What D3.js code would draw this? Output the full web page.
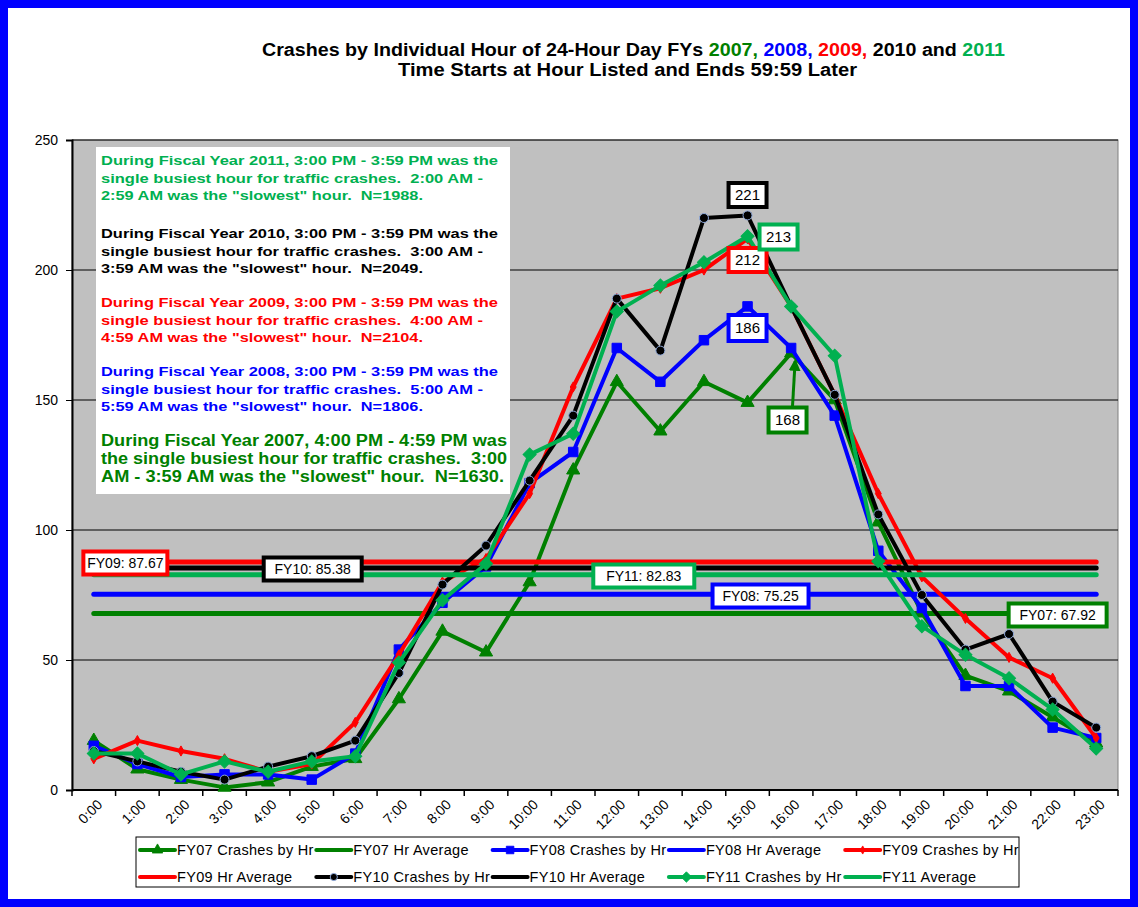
<!DOCTYPE html>
<html><head><meta charset="utf-8">
<script src="https://cdn.jsdelivr.net/npm/d3@7"></script>
<style>html,body{margin:0;padding:0;background:#fff;}svg{display:block;font-family:Arial,"Liberation Sans",sans-serif;}</style>
</head><body>
<svg id="c" width="1138" height="907"></svg>
<script>
const hours = ["0:00","1:00","2:00","3:00","4:00","5:00","6:00","7:00","8:00","9:00","10:00","11:00","12:00","13:00","14:00","15:00","16:00","17:00","18:00","19:00","20:00","21:00","22:00","23:00"];
const yTicks = [0,50,100,150,200,250];
const fy07 = [19,8,4,1,3,9,12,35,61,53,80,123,157,138,157,149,168,150,103,68,44,38,28,18];
const fy08 = [17,10,5,6,6,4,14,54,72,86,118,130,170,157,173,186,170,144,92,70,40,40,24,20];
const fy09 = [12,19,15,12,7,10,26,52,80,89,114,155,189,193,200,212,186,152,114,82,66,51,43,20];
const fy10 = [15,11,7,4,9,13,19,45,79,94,119,144,189,169,220,221,186,152,106,75,54,60,34,24];
const fy11 = [14,14,6,11,7,11,13,49,73,87,129,137,184,194,203,213,186,167,88,63,52,43,31,16];
const averages = [67.92,75.25,87.67,85.38,82.83];
const seriesNames = ["FY07","FY08","FY09","FY10","FY11"];
const colors = ["#008000","#0000FF","#FF0000","#000000","#00B050"];
const peakLabels = ["168","186","212","221","213"];
const legendLabels = ["FY07 Crashes by Hr","FY07 Hr Average","FY08 Crashes by Hr","FY08 Hr Average","FY09 Crashes by Hr","FY09 Hr Average","FY10 Crashes by Hr","FY10 Hr Average","FY11 Crashes by Hr","FY11 Average"];
const noteLines = [
 ["During Fiscal Year 2011, 3:00 PM - 3:59 PM was the","single busiest hour for traffic crashes.  2:00 AM -","2:59 AM was the \"slowest\" hour.  N=1988."],
 ["During Fiscal Year 2010, 3:00 PM - 3:59 PM was the","single busiest hour for traffic crashes.  3:00 AM -","3:59 AM was the \"slowest\" hour.  N=2049."],
 ["During Fiscal Year 2009, 3:00 PM - 3:59 PM was the","single busiest hour for traffic crashes.  4:00 AM -","4:59 AM was the \"slowest\" hour.  N=2104."],
 ["During Fiscal Year 2008, 3:00 PM - 3:59 PM was the","single busiest hour for traffic crashes.  5:00 AM -","5:59 AM was the \"slowest\" hour.  N=1806."],
 ["During Fiscal Year 2007, 4:00 PM - 4:59 PM was","the single busiest hour for traffic crashes.  3:00","AM - 3:59 AM was the \"slowest\" hour.  N=1630."]
];
const noteColors = ["#00B050","#000000","#FF0000","#0000FF","#008000"];

const data = [fy07,fy08,fy09,fy10,fy11];
const svg = d3.select("#c");
const L=72,R=1118,T=140,B=790;
const x = d3.scaleBand().domain(hours).range([L,R]);
const bw = x.bandwidth();
const cx = h => x(h)+bw/2;
const y = d3.scaleLinear().domain([0,250]).range([B,T]);

// outer frame
svg.append("rect").attr("x",4).attr("y",4).attr("width",1130).attr("height",899).attr("fill","#fff").attr("stroke","#0000FF").attr("stroke-width",8);

// title
const tf = "Arial,'Liberation Sans',sans-serif";
const t1 = svg.append("text").attr("x",262).attr("y",56).attr("font-weight","bold").attr("font-size",18).attr("font-family",tf)
 .attr("textLength",743).attr("lengthAdjust","spacingAndGlyphs");
[["Crashes by Individual Hour of 24-Hour Day FYs ","#000"],["2007, ","#008000"],["2008, ","#0000FF"],["2009, ","#FF0000"],["2010 and ","#000"],["2011","#00B050"]].forEach(p=>t1.append("tspan").attr("fill",p[1]).text(p[0]));
svg.append("text").attr("x",398).attr("y",76).attr("font-weight","bold").attr("font-size",18).attr("font-family",tf)
 .attr("textLength",459).attr("lengthAdjust","spacingAndGlyphs").text("Time Starts at Hour Listed and Ends 59:59 Later");

// plot area
svg.append("rect").attr("x",L).attr("y",T).attr("width",R-L).attr("height",B-T).attr("fill","#C0C0C0").attr("stroke","#808080").attr("stroke-width",1);
svg.append("g").selectAll("line").data(yTicks.filter(v=>v>0)).join("line")
 .attr("x1",L).attr("x2",R).attr("y1",d=>y(d)).attr("y2",d=>y(d)).attr("stroke","#000").attr("stroke-width",1);

// y axis
const ya = svg.append("g").attr("transform",`translate(${L},0)`).call(d3.axisLeft(y).tickValues(yTicks).tickSize(6).tickPadding(8));
ya.select(".domain").attr("stroke","#000").attr("stroke-width",2);
ya.selectAll("text").attr("font-size",14).attr("font-family",tf).attr("fill","#000");
// x axis
svg.append("line").attr("x1",L).attr("x2",R).attr("y1",B).attr("y2",B).attr("stroke","#000").attr("stroke-width",2);
svg.append("g").selectAll("line").data(hours.concat(["end"])).join("line")
 .attr("x1",d=>d==="end"?R:x(d)).attr("x2",d=>d==="end"?R:x(d)).attr("y1",B).attr("y2",B+6).attr("stroke","#000").attr("stroke-width",1.5);
svg.append("g").selectAll("text").data(hours).join("text")
 .attr("transform",d=>`translate(${cx(d)+6},${B+12}) rotate(-45)`).attr("text-anchor","end").attr("dy","0.35em")
 .attr("font-size",14).attr("fill","#000").text(d=>d);

const symbols = [d3.symbol().type(d3.symbolTriangle).size(75),
 d3.symbol().type(d3.symbolSquare).size(90),
 d3.symbol().type(d3.symbolDiamond).size(30),
 null,
 d3.symbol().type(d3.symbolSquare).size(85)];

function drawMarker(g,i,px,py,scale){
  scale = scale||1;
  if(i===3){
    g.append("circle").attr("cx",px).attr("cy",py).attr("r",4.5*scale).attr("fill","#000").attr("stroke","#8EA9DB").attr("stroke-width",1);
  } else {
    const rot = i===4 ? " rotate(45)" : "";
    g.append("path").attr("d",symbols[i]()).attr("transform",`translate(${px},${py}) scale(${scale})${rot}`).attr("fill",colors[i]).attr("stroke",colors[i]).attr("stroke-width",1);
  }
}

const line = d3.line().x((d,j)=>cx(hours[j])).y(d=>y(d));
data.forEach((arr,i)=>{
  const g = svg.append("g");
  g.append("path").datum(arr).attr("d",line).attr("fill","none").attr("stroke",colors[i]).attr("stroke-width",4).attr("stroke-linejoin","round");
  arr.forEach((v,j)=>drawMarker(g,i,cx(hours[j]),y(v)));
  svg.append("line").attr("x1",cx(hours[0])).attr("x2",cx(hours[23])).attr("y1",y(averages[i])).attr("y2",y(averages[i]))
   .attr("stroke",colors[i]).attr("stroke-width",5).attr("stroke-linecap","round");
});

// label boxes
function box(cxp,cyp,w,h,col,txt,fs){
  svg.append("rect").attr("x",cxp-w/2).attr("y",cyp-h/2).attr("width",w).attr("height",h).attr("fill","#fff").attr("stroke",col).attr("stroke-width",4);
  svg.append("text").attr("x",cxp).attr("y",cyp).attr("dy","0.36em").attr("text-anchor","middle").attr("font-size",fs||15).attr("fill","#000").text(txt);
}
// average labels
const avgPos = [[cx(hours[22])+5,615,98],[cx(hours[15])+13,596,96],[cx(hours[1])-12,563,84],[cx(hours[5])+1,569,98],[cx(hours[12])+27,576,101]];
averages.forEach((a,i)=>box(avgPos[i][0],avgPos[i][1],avgPos[i][2],23,colors[i],seriesNames[i]+": "+a.toFixed(2),14));

// peak labels
const p15 = cx(hours[15]);
box(p15+40, 420, 38, 25, colors[0], peakLabels[0]);
box(p15, 328, 38, 26, colors[1], peakLabels[1]);
box(p15, 260, 38, 24, colors[2], peakLabels[2]);
box(p15, 195, 38, 24, colors[3], peakLabels[3]);
box(p15+31, 237, 38, 25, colors[4], peakLabels[4]);
// arrow for 168
svg.append("defs").append("marker").attr("id","ah").attr("viewBox","0 0 10 10").attr("refX",8).attr("refY",5).attr("markerWidth",4).attr("markerHeight",4).attr("orient","auto")
 .append("path").attr("d","M0,0L10,5L0,10z").attr("fill","#008000");
svg.append("line").attr("x1",p15+45).attr("y1",406).attr("x2",cx(hours[16])+4).attr("y2",y(fy07[16])+8).attr("stroke","#008000").attr("stroke-width",3).attr("marker-end","url(#ah)");

// note box
svg.append("rect").attr("x",96).attr("y",147).attr("width",414).attr("height",347).attr("fill","#fff");
const baseY = [165,238,307,376,446];
noteLines.forEach((ls,i)=>{
  const big = i===4;
  const sp = big?18:17.5;
  ls.forEach((s,k)=>{
    const t = svg.append("text").attr("x",101).attr("y",baseY[i]+k*sp).attr("font-weight","bold").attr("font-size",big?16:13.5).attr("fill",noteColors[i]).attr("xml:space","preserve").text(s);
    const tl = [[397,382,322],[397,382,322],[397,382,322],[397,382,322],[406,406,403]][i][k];
    t.attr("textLength",tl).attr("lengthAdjust","spacingAndGlyphs");
  });
});

// legend
svg.append("rect").attr("x",136).attr("y",837).attr("width",883).attr("height",50).attr("fill","#fff").attr("stroke","#000").attr("stroke-width",1);
const lg = svg.append("g");
svg.append("defs").append("clipPath").attr("id","lc").append("rect").attr("x",136).attr("y",837).attr("width",883).attr("height",50);
lg.attr("clip-path","url(#lc)");
legendLabels.forEach((lab,k)=>{
  const row = Math.floor(k/5), col = k%5;
  const x0 = 140 + col*176.3, yy = 850 + row*27;
  const si = Math.floor(k/2), isAvg = k%2===1;
  lg.append("line").attr("x1",x0).attr("x2",x0+35).attr("y1",yy).attr("y2",yy).attr("stroke",colors[si]).attr("stroke-width",4).attr("stroke-linecap","round");
  if(!isAvg) drawMarker(lg,si,x0+17.5,yy,0.8);
  lg.append("text").attr("x",x0+37).attr("y",yy).attr("dy","0.36em").attr("font-size",14.5).attr("letter-spacing",0.3).attr("fill","#000").text(lab);
});
</script>
</body></html>
